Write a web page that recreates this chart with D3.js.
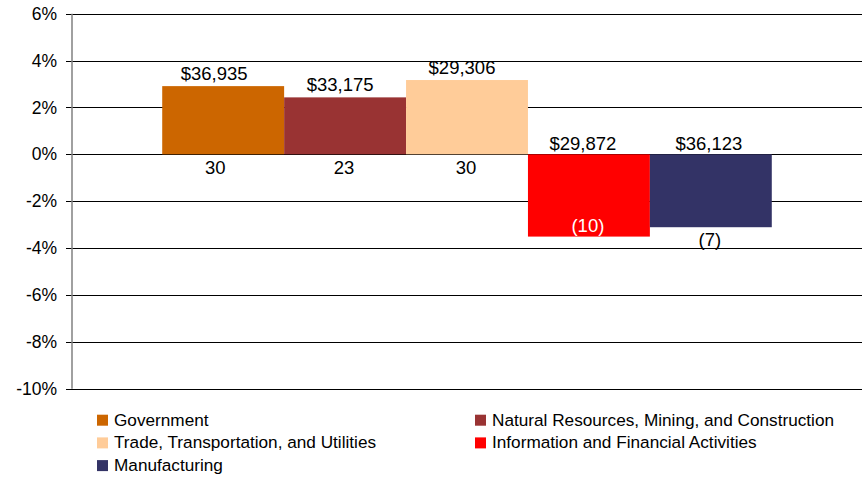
<!DOCTYPE html>
<html>
<head>
<meta charset="utf-8">
<script src="https://cdn.jsdelivr.net/npm/d3@7"></script>
<style>
  body { margin: 0; background: #fff; }
  text { font-family: Arial, "Liberation Sans", sans-serif; fill: #000; }
</style>
</head>
<body>
<div id="chart"></div>
<script>
// sectors, growth (%), average wage, and job counts
const sectors = ['Government', 'Natural Resources, Mining, and Construction', 'Trade, Transportation, and Utilities', 'Information and Financial Activities', 'Manufacturing'];
const growth = [2.91, 2.43, 3.17, -3.51, -3.11];
const wageLabels = ['$36,935', '$33,175', '$29,306', '$29,872', '$36,123'];
const countLabels = ['30', '23', '30', '(10)', '(7)'];
const colors = ['#CC6600', '#993333', '#FFCC99', '#FF0000', '#333366'];
const yTicks = [-10, -8, -6, -4, -2, 0, 2, 4, 6];

const width = 865, height = 478;
const margin = {top: 13.7, right: 3, bottom: 89.3, left: 72};

const svg = d3.select('#chart').append('svg')
    .attr('width', width)
    .attr('height', height);

const data = sectors.map((s, i) => ({
    sector: s,
    value: growth[i],
    wage: wageLabels[i],
    count: countLabels[i],
    color: colors[i]
}));

const x = d3.scaleBand()
    .domain(sectors)
    .range([margin.left, width - margin.right])
    .paddingInner(0)
    .paddingOuter(0.74);

const y = d3.scaleLinear()
    .domain([-10, 6])
    .range([height - margin.bottom, margin.top]);

// gridlines + tick marks
svg.append('g').selectAll('line.grid').data(yTicks)
    .join('line')
    .attr('class', 'grid')
    .attr('x1', margin.left - 6)
    .attr('x2', width - margin.right)
    .attr('y1', d => Math.round(y(d)) + 0.5)
    .attr('y2', d => Math.round(y(d)) + 0.5)
    .attr('stroke', '#000')
    .attr('stroke-width', 1);

// y labels
svg.append('g').selectAll('text.ytick').data(yTicks)
    .join('text')
    .attr('class', 'ytick')
    .attr('x', margin.left - 15)
    .attr('y', d => y(d))
    .attr('dy', '0.35em')
    .attr('text-anchor', 'end')
    .style('font-size', '17.5px')
    .text(d => d + '%');

// bars
svg.append('g').selectAll('rect.bar').data(data)
    .join('rect')
    .attr('class', 'bar')
    .attr('x', d => x(d.sector))
    .attr('y', d => y(Math.max(0, d.value)))
    .attr('width', x.bandwidth())
    .attr('height', d => Math.abs(y(d.value) - y(0)))
    .attr('fill', d => d.color);

// y axis line
svg.append('line')
    .attr('x1', margin.left).attr('x2', margin.left)
    .attr('y1', y(6)).attr('y2', y(-10))
    .attr('stroke', '#808080')
    .attr('stroke-width', 1.5);

// wage labels above the bar (or above zero for negative bars)
const labelOffset = [-9, -5, -5, -6, -2];
svg.append('g').selectAll('text.wage').data(data)
    .join('text')
    .attr('class', 'wage')
    .attr('x', (d, i) => x(d.sector) + x.bandwidth() / 2 + labelOffset[i])
    .attr('y', d => d.value >= 0 ? y(d.value) - 6.5 : y(0) - 4.5)
    .attr('text-anchor', 'middle')
    .style('font-size', '18.5px')
    .text(d => d.wage);

// count labels below zero, or at the base of negative bars
const insideLabel = d => d.sector === 'Information and Financial Activities';
svg.append('g').selectAll('text.count').data(data)
    .join('text')
    .attr('class', 'count')
    .attr('x', (d, i) => x(d.sector) + x.bandwidth() / 2 + (i === 0 ? -8 : -1))
    .attr('y', d => {
        if (d.value >= 0) return y(0) + 20;
        return insideLabel(d) ? y(d.value) - 4.5 : y(d.value) + 18.5;
    })
    .attr('text-anchor', 'middle')
    .style('font-size', '18.5px')
    .style('fill', d => insideLabel(d) ? '#fff' : '#000')
    .text(d => d.count);

// legend, two columns
const legCols = [97, 475];
const legRow0 = 425.7, legRowH = 22.7;
const leg = svg.append('g').selectAll('g.leg').data(data)
    .join('g')
    .attr('class', 'leg')
    .attr('transform', (d, i) => `translate(${legCols[i % 2]},${legRow0 + Math.floor(i / 2) * legRowH})`);

leg.append('rect')
    .attr('x', 0)
    .attr('y', -11)
    .attr('width', 11)
    .attr('height', 11)
    .attr('fill', d => d.color);

leg.append('text')
    .attr('x', 17)
    .attr('y', 0)
    .style('font-size', '17.2px')
    .text(d => d.sector);
</script>
</body>
</html>
